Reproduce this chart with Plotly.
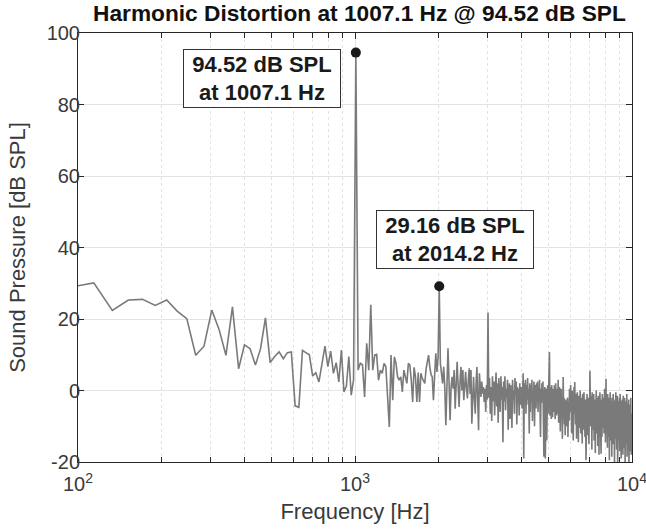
import plotly.graph_objects as go

# FFT bin spacing (Hz) and first plotted bin index
bin_width_hz = 1007.1 / 53
first_bin = 5

# Sound pressure level per bin [dB SPL], bins 5 .. 526
spl_low = [
    29.0, 30.1, 22.4, 25.3, 25.5, 23.8, 25.3, 22.2, 20.1, 9.85,    # k5-14
    12.4, 22.5, 17.1, 9.85, 23.4, 6.1, 12.8, 11.7, 7.1, 11.7,      # k15-24
    20.3, 7.8, 9.5, 10.8, 8.9, 10.6, 10.8, -4.3, -4.7, 11.2,       # k25-34
    10.6, 10.0, 4.1, 5.0, 2.4, 7.5, 12.4, 6.7, 11.0, 4.8,          # k35-44
    7.8, 2.4, 11.3, -0.4, 1.3, 9.5, -1.3, 3.0,                     # k45-52
]
spl_fundamental = [94.52]                                          # k53
spl_mid = [
    5.7, 7.6, 7.2, -1.8, 13.2, 5.7, 24.0, 5.7, 9.9, 10.1,          # k54-63
    2.9, 5.7, 4.8, 7.6, 6.7, -3.0, -10.2, 9.9, -2.7, 9.4,          # k64-73
    7.6, 3.8, 2.9, 3.8, -0.4, 5.7, 3.8, 2.0, 7.6, 7.2,             # k74-83
    2.9, -3.2, 6.5, 3.8, -3.2, 5.0, -3.2, 4.8, 3.5, 2.9,           # k84-93
    1.95, 6.0, 8.5, 9.9, 6.6, 4.5, 3.8, -2.7, 4.0, 10.4,           # k94-103
    5.2, 9.4,                                                      # k104-105
]
spl_second = [29.16]                                               # k106
spl_upper = [
    7.6, 4.8, 2.0, 6.6, 1.0, -9.7, 3.0, 11.8, 2.5, -8.3,           # k107-116
    1.0, 3.8, 0.5, 5.7, -5.1, 2.0, 8.0, 1.5, -4.6, 2.5,            # k117-126
    6.6, 0.0, 5.7, -2.7, 1.0, 5.2, 0.5, -2.2, 3.0, 6.2,            # k127-136
    -1.0, 5.7, -9.3, 1.5, 3.8, -2.0, -6.5, 2.0, 6.6, -3.0,         # k137-146
    -11.1, 4.8, 0.0, -1.8, 2.5, -0.9, 1.0, -3.2, 0.5, -6.0,        # k147-156
    1.5, -2.5, 21.8,                                               # k157-159
    -2.0, 3.5, -6.5, 1.0, -8.5, 4.0, -3.0, 2.5, -7.0, 0.5,         # k160-169
    5.0, -4.5, 2.0, -9.0, 3.5, -1.5, -6.0, 4.0, -2.5, 1.0,         # k170-179
    -14.5, 2.5, -3.0, 4.0, -5.5, 0.5, -2.0, 3.0, -11.0, -1.0,      # k180-189
    2.0, -8.0, 1.5, -4.0, -10.5, 3.0, -2.5, 0.0, -6.5, 3.5,        # k190-199
    -1.0, 2.5, -9.5, 1.0, -3.5, 0.5, -7.0, 2.0, -4.0, -1.5,        # k200-209
    1.0, -5.0, 3.5, 4.8, -19.0, 2.0, -3.5, 3.0, -6.5, 1.5,         # k210-219
    -2.5, 3.5, -4.0, 0.5, -12.0, 2.0, -6.0, 1.5, -3.0, 3.0,        # k220-229
    -8.5, 0.0, -2.5, 2.5, -10.0, -1.0, 1.5, -5.0, 2.0, -3.0,       # k230-239
    2.5, -6.0, 1.0, -2.0, 3.0, -4.5, -13.0, 0.5, -3.5, 2.0,        # k240-249
    -1.5, 2.5, -5.0, -18.5, -2.0, 1.0, -19.0, -4.0, 0.5, -14.0,    # k250-259
    -3.0, 1.5, -6.5, 0.0, -3.5, 10.8,                              # k260-265
]
spl_high = [
    -7.0, 1.0, -3.0, -8.0, 1.5, -4.0, -7.5, 0.5, -2.5, -6.0,       # k266-275
    1.5, -5.0, -8.0, 2.0, -3.5, -7.0, 0.5, -6.5, -2.0, 3.0,        # k276-285
    -9.0, -1.5, 1.0, -6.0, -11.5, -2.0, 0.5, -7.0, -3.5, -13.5,    # k286-295
    1.0, 3.8, -5.0, -2.0, -9.5, -4.0, -12.5, -2.5, -7.0, -3.0,     # k296-305
    -10.0, -4.5, -2.0, -13.0, -5.5, -3.0, -8.5, 0.5, -6.0, -3.5,   # k306-315
    1.5, -9.0, -4.0, -12.0, 0.0, -5.5, -2.5, -14.0, -3.0, 1.0,     # k316-325
    -6.5, 2.4, -4.0, -9.5, -1.0, -6.0, -13.5, -2.5, -0.5, -8.0,    # k326-335
    -4.5, -14.5, -1.5, -7.0, -3.0, -10.5, 0.0, -5.0, -12.0, -2.0,  # k336-345
    -8.5, -4.0, -14.8, -1.0, -6.5, -3.5, -11.0, -0.5, -7.5, -4.0,  # k346-355
    -13.0, -2.5, -6.0, -19.5, -3.0, -9.0, -1.0, -5.5, -12.5, -2.0, # k356-365
    -7.0, -4.5, -15.0, -2.0, -6.0, 5.5, -3.5, -10.0, -1.5, -8.0,   # k366-375
    -4.0, -16.5, -0.5, -6.5, -11.0, -3.0, -8.5, -1.0, -14.0, -5.0, # k376-385
    -2.5, -9.5, -17.5, -3.5, -6.0, 0.0, -12.0, -4.5, -7.5, -2.0,   # k386-395
    -15.5, -5.0, -1.5, -9.0, -18.0, -3.0, -6.5, -0.5, -11.5, -4.0, # k396-405
    -8.0, -17.7, -2.5, -5.5, -13.0, -1.0, -7.0, -3.5, -10.5, -5.5, # k406-415
    -2.0, -12.0, -6.0, 0.5, -9.0, -3.0, -14.5, -4.5, 3.3, -7.5,    # k416-425
    -2.5, -11.0, -5.0, -16.0, -1.0, -8.5, -3.5, -13.0, -6.0, -2.0, # k426-435
    -19.5, -4.0, -9.5, -0.5, -7.0, -14.0, -3.0, -10.0, -5.5, -18.5,# k436-445
    -2.0, -8.0, -12.5, -4.5, -1.0, -15.0, -6.5, -3.0, -11.0, -21.0,# k446-455
    -5.0, -2.5, -9.0, -13.5, -0.5, -7.5, -4.0, -16.5, -6.0, -10.5, # k456-465
    -1.5, -21.0, -5.0, -8.5, -3.0, -14.0, -6.5, -11.0, -2.0, -17.0,# k466-475
    -4.5, -1.0, -9.5, -13.0, -5.5, -19.0, -3.0, -7.5, -15.5, -2.5, # k476-485
    -10.0, -6.0, -18.0, -1.5, -8.0, -12.5, -4.0, -16.0, -6.5, -2.0,# k486-495
    -13.5, -21.0, -5.0, -9.0, -3.0, -15.0, -7.5, -11.5, -1.0, -18.5,# k496-505
    -6.0, -10.0, -3.5, -16.5, -8.0, -13.0, -2.5, -21.0, -7.0, -11.0,# k506-515
    -4.0, -17.0, -9.5, -5.5, -14.0, -2.0, -12.0, -18.0, -6.5, -10.0,# k516-525
    -15.0,                                                         # k526
]
spl_db = spl_low + spl_fundamental + spl_mid + spl_second + spl_upper + spl_high
freq_hz = [(first_bin + i) * bin_width_hz for i in range(len(spl_db))]

# Marked peaks
peak_freq = [1007.1, 2014.2]
peak_spl = [94.52, 29.16]
peak_text = ["94.52 dB SPL<br>at 1007.1 Hz", "29.16 dB SPL<br>at 2014.2 Hz"]
# label box centres: (log10 frequency, dB)
peak_label_pos = [(2.6635, 87.3), (3.3607, 42.1)]

title_text = "Harmonic Distortion at 1007.1 Hz @ 94.52 dB SPL"
x_ticks = [100, 1000, 10000]
x_ticktext = ["10<sup>2</sup>", "10<sup>3</sup>", "10<sup>4</sup>"]
x_minor = [200, 300, 400, 500, 600, 700, 800, 900,
           2000, 3000, 4000, 5000, 6000, 7000, 8000, 9000]
y_ticks = [-20, 0, 20, 40, 60, 80, 100]
y_ticktext = ["-20", "0", "20", "40", "60", "80", "100"]

FONT = "Liberation Sans, Arial, Helvetica, sans-serif"
AX = "#262626"
TXT = "#3a3a3a"

fig = go.Figure()
fig.add_trace(go.Scatter(
    x=freq_hz, y=spl_db, mode="lines",
    line=dict(color="#7a7a7a", width=1.6),
    hoverinfo="skip", showlegend=False,
))
fig.add_trace(go.Scatter(
    x=peak_freq, y=peak_spl, mode="markers",
    marker=dict(color="#1a1a1a", size=10),
    showlegend=False,
))

for (lx, ly), txt in zip(peak_label_pos, peak_text):
    fig.add_annotation(
        x=lx, y=ly, xref="x", yref="y", text="<b>" + txt + "</b>",
        showarrow=False, xanchor="center", yanchor="middle",
        font=dict(family=FONT, size=22, color="#1a1a1a"),
        bgcolor="white", bordercolor="#333333", borderwidth=1, borderpad=0,
        width=156, height=57, align="center",
    )

fig.update_layout(
    width=646, height=529,
    margin=dict(l=78, r=14, t=33, b=67, autoexpand=False),
    paper_bgcolor="white", plot_bgcolor="white",
    font=dict(family=FONT, size=20, color=TXT),
    title=dict(text="<b>" + title_text + "</b>", x=0.508, xref="paper",
               xanchor="center", y=1, yref="container", yanchor="top",
               pad=dict(t=5),
               font=dict(family=FONT, size=22.7, color="#111111")),
)
fig.update_xaxes(
    type="log", range=[2, 4], automargin=False,
    tickvals=x_ticks, ticktext=x_ticktext,
    ticks="inside", ticklen=6, tickcolor=AX,
    showline=True, linecolor=AX, linewidth=1, mirror="ticks",
    showgrid=True, gridcolor="#e3e3e3", gridwidth=1,
    minor=dict(tickvals=x_minor, ticks="inside", ticklen=5, tickcolor=AX,
               showgrid=True, gridcolor="#e2e2e2", griddash="dot", gridwidth=1),
    title=dict(text="Frequency [Hz]", standoff=9,
               font=dict(family=FONT, size=22, color=TXT)),
    tickfont=dict(family=FONT, size=20, color=TXT),
    ticklabeloverflow="allow", ticklabelstandoff=4,
    zeroline=False,
)
fig.update_yaxes(
    range=[-20, 100], automargin=False,
    tickvals=y_ticks, ticktext=y_ticktext,
    ticks="inside", ticklen=6, tickcolor=AX,
    showline=True, linecolor=AX, linewidth=1, mirror="ticks",
    showgrid=True, gridcolor="#e3e3e3", gridwidth=1,
    title=dict(text="Sound Pressure [dB SPL]", standoff=14,
               font=dict(family=FONT, size=22, color=TXT)),
    tickfont=dict(family=FONT, size=20, color=TXT),
    ticklabelstandoff=-7,
    zeroline=False,
)

fig.write_html("out.html")
